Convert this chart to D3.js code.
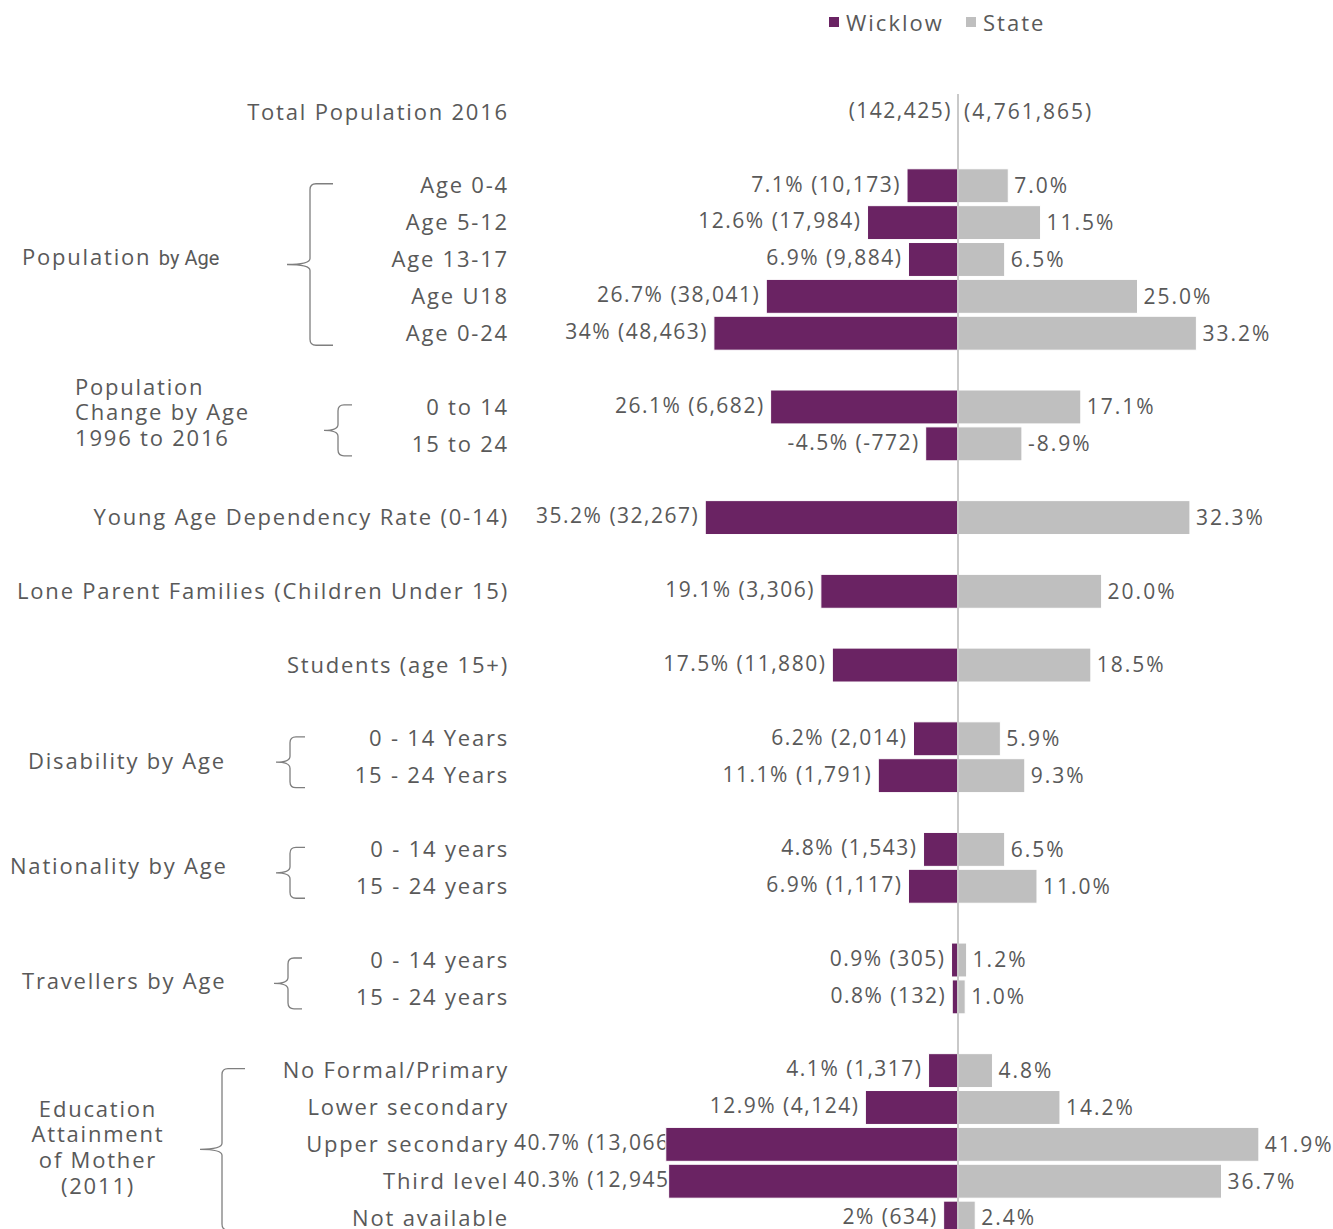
<!DOCTYPE html>
<html>
<head>
<meta charset="utf-8">
<script src="https://cdn.jsdelivr.net/npm/d3@7"></script>
<style>
  body { margin: 0; background: #fff; }
  text { font-family: "Open Sans", "Lato", sans-serif; fill: #595959; }
</style>
</head>
<body>
<div id="chart"></div>
<script>
const WIDTH = 1333;
const HEIGHT = 1229;
const COLOR_WICKLOW = "#6A2363";
const COLOR_STATE = "#BFBFBF";

// rows top to bottom, "" = empty spacer row
const categories = [
    "Total Population 2016", "",
    "Age 0-4", "Age 5-12", "Age 13-17", "Age U18", "Age 0-24", "",
    "0 to 14", "15 to 24", "",
    "Young Age Dependency Rate (0-14)", "",
    "Lone Parent Families (Children Under 15)", "",
    "Students (age 15+)", "",
    "0 - 14 Years", "15 - 24 Years", "",
    "0 - 14 years", "15 - 24 years", "",
    "0 - 14 years", "15 - 24 years", "",
    "No Formal/Primary", "Lower secondary", "Upper secondary", "Third level", "Not available"
];

const wicklowPct = [
    null, null,
    7.1, 12.6, 6.9, 26.7, 34, null,
    26.1, -4.5, null,
    35.2, null,
    19.1, null,
    17.5, null,
    6.2, 11.1, null,
    4.8, 6.9, null,
    0.9, 0.8, null,
    4.1, 12.9, 40.7, 40.3, 2
];

const statePct = [
    null, null,
    7.0, 11.5, 6.5, 25.0, 33.2, null,
    17.1, -8.9, null,
    32.3, null,
    20.0, null,
    18.5, null,
    5.9, 9.3, null,
    6.5, 11.0, null,
    1.2, 1.0, null,
    4.8, 14.2, 41.9, 36.7, 2.4
];

const wicklowLabels = [
    "(142,425)", "",
    "7.1% (10,173)", "12.6% (17,984)", "6.9% (9,884)", "26.7% (38,041)", "34% (48,463)", "",
    "26.1% (6,682)", "-4.5% (-772)", "",
    "35.2% (32,267)", "",
    "19.1% (3,306)", "",
    "17.5% (11,880)", "",
    "6.2% (2,014)", "11.1% (1,791)", "",
    "4.8% (1,543)", "6.9% (1,117)", "",
    "0.9% (305)", "0.8% (132)", "",
    "4.1% (1,317)", "12.9% (4,124)", "40.7% (13,066)", "40.3% (12,945)", "2% (634)"
];

const stateLabels = [
    "(4,761,865)", "",
    "7.0%", "11.5%", "6.5%", "25.0%", "33.2%", "",
    "17.1%", "-8.9%", "",
    "32.3%", "",
    "20.0%", "",
    "18.5%", "",
    "5.9%", "9.3%", "",
    "6.5%", "11.0%", "",
    "1.2%", "1.0%", "",
    "4.8%", "14.2%", "41.9%", "36.7%", "2.4%"
];

// bracketed groups: label lines, first row, last row
const groups = [
    { lines: ["Population by Age"], first: 2, last: 6 },
    { lines: ["Population", "Change by Age", "1996 to 2016"], first: 8, last: 9 },
    { lines: ["Disability by Age"], first: 17, last: 18 },
    { lines: ["Nationality by Age"], first: 20, last: 21 },
    { lines: ["Travellers by Age"], first: 23, last: 24 },
    { lines: ["Education", "Attainment", "of Mother", "(2011)"], first: 26, last: 30 }
];

const rows = categories.map((c, i) => ({
    i: i,
    name: c,
    w: wicklowPct[i],
    s: statePct[i],
    wl: wicklowLabels[i],
    sl: stateLabels[i]
}));

const svg = d3.select("#chart")
    .append("svg")
    .attr("width", WIDTH)
    .attr("height", HEIGHT);

const CENTER = 958;
const LABEL_RIGHT = 509;
const LS = "1.8px";      // letter spacing for the wide look of the original font
const LS_VAL = "1.5px";

const y = d3.scaleBand()
    .domain(d3.range(categories.length))
    .range([92.1, 1238])
    .padding(0.08);

const xLeft = d3.scaleLinear().domain([0, 45]).range([CENTER, CENTER - 45 * 7.18]);
const xRight = d3.scaleLinear().domain([0, 45]).range([CENTER, CENTER + 45 * 7.18]);

const yc = i => y(i) + y.bandwidth() / 2;

// --- Category labels ---
svg.append("g")
    .selectAll("text")
    .data(rows.filter(d => d.name))
    .join("text")
    .attr("x", LABEL_RIGHT)
    .attr("y", d => yc(d.i))
    .attr("dy", "0.35em")
    .attr("text-anchor", "end")
    .style("font-size", "22px")
    .style("letter-spacing", LS)
    .text(d => d.name);

// --- Value labels (drawn under the bars) ---
svg.append("g")
    .selectAll("text")
    .data(rows.filter(d => d.wl))
    .join("text")
    .attr("y", d => yc(d.i))
    .attr("dy", "0.28em")
    .attr("text-anchor", "start")
    .style("font-size", "21px")
    .style("letter-spacing", LS_VAL)
    .text(d => d.wl)
    .attr("x", function (d) {
        const end = (d.w == null ? CENTER : xLeft(Math.abs(d.w))) - 6;
        const len = this.getComputedTextLength();
        // keep clear of the category labels, slide under the bar if needed
        return Math.max(end - len, LABEL_RIGHT + 5);
    });

svg.append("g")
    .selectAll("text")
    .data(rows.filter(d => d.sl))
    .join("text")
    .attr("x", d => (d.s == null ? CENTER : xRight(Math.abs(d.s))) + 6)
    .attr("y", d => yc(d.i))
    .attr("dy", "0.35em")
    .attr("text-anchor", "start")
    .style("font-size", "21px")
    .style("letter-spacing", "2px")
    .text(d => d.sl);

// --- Bars ---
svg.append("g")
    .selectAll("rect")
    .data(rows.filter(d => d.w != null))
    .join("rect")
    .attr("x", d => xLeft(Math.abs(d.w)))
    .attr("y", d => y(d.i))
    .attr("width", d => CENTER - xLeft(Math.abs(d.w)))
    .attr("height", y.bandwidth())
    .attr("fill", COLOR_WICKLOW)
    .attr("stroke", "#fff")
    .attr("stroke-width", 1);

svg.append("g")
    .selectAll("rect")
    .data(rows.filter(d => d.s != null))
    .join("rect")
    .attr("x", CENTER)
    .attr("y", d => y(d.i))
    .attr("width", d => xRight(Math.abs(d.s)) - CENTER)
    .attr("height", y.bandwidth())
    .attr("fill", COLOR_STATE)
    .attr("stroke", "#fff")
    .attr("stroke-width", 1);

// --- Center line ---
svg.append("line")
    .attr("x1", CENTER).attr("x2", CENTER)
    .attr("y1", 94).attr("y2", HEIGHT)
    .attr("stroke", "#C9C9C9")
    .attr("stroke-width", 2);

// --- Braces ---
function brace(xv, top, bottom, tipX, hookX) {
    const mid = (top + bottom) / 2;
    const r = 6;
    return `M${hookX},${top} L${xv + r},${top} Q${xv},${top} ${xv},${top + r}` +
        ` L${xv},${mid - 6} Q${xv},${mid} ${tipX},${mid}` +
        ` Q${xv},${mid} ${xv},${mid + 6} L${xv},${bottom - r}` +
        ` Q${xv},${bottom} ${xv + r},${bottom} L${hookX},${bottom}`;
}

const braceGeom = [
    { xv: 310, tipX: 287, hookX: 333 },
    { xv: 338, tipX: 324, hookX: 352 },
    { xv: 290, tipX: 276, hookX: 305 },
    { xv: 290, tipX: 276, hookX: 305 },
    { xv: 288, tipX: 274, hookX: 302 },
    { xv: 222, tipX: 200, hookX: 245 }
];

groups.forEach((g, k) => {
    const b = braceGeom[k];
    svg.append("path")
        .attr("d", brace(b.xv, yc(g.first) - 2, yc(g.last) + 12, b.tipX, b.hookX))
        .attr("fill", "none")
        .attr("stroke", "#7F7F7F")
        .attr("stroke-width", 1.3);
});

// --- Group labels ---
// Population by Age (the "by Age" part is set smaller in the original)
const pop = svg.append("text")
    .attr("x", 22)
    .attr("y", yc(4) - 1)
    .attr("dy", "0.3em")
    .style("font-size", "22px")
    .style("letter-spacing", LS);
pop.append("tspan").text("Population ");
pop.append("tspan")
    .style("font-size", "20px")
    .style("letter-spacing", "0px")
    .style("font-family", "'Liberation Sans Narrow', 'Roboto', sans-serif")
    .text("by Age");

function multiLine(lines, x, y0, step, anchor) {
    svg.append("g")
        .selectAll("text")
        .data(lines)
        .join("text")
        .attr("x", x)
        .attr("y", (d, i) => y0 + i * step)
        .attr("dy", "0.35em")
        .attr("text-anchor", anchor)
        .style("font-size", "22px")
        .style("letter-spacing", LS)
        .text(d => d);
}

multiLine(groups[1].lines, 75, 387, 25.5, "start");
multiLine(groups[2].lines, 28, 761, 0, "start");
multiLine(groups[3].lines, 10, 866, 0, "start");
multiLine(groups[4].lines, 22, 981, 0, "start");
multiLine(groups[5].lines, 98, 1109, 25.7, "middle");

// --- Legend ---
const legend = svg.append("g");
legend.append("rect")
    .attr("x", 829).attr("y", 17).attr("width", 10).attr("height", 10)
    .attr("fill", COLOR_WICKLOW);
legend.append("text").attr("x", 846).attr("y", 23).attr("dy", "0.35em")
    .style("font-size", "22px").style("letter-spacing", "2px").text("Wicklow");
legend.append("rect")
    .attr("x", 966).attr("y", 17).attr("width", 10).attr("height", 10)
    .attr("fill", COLOR_STATE);
legend.append("text").attr("x", 983).attr("y", 23).attr("dy", "0.35em")
    .style("font-size", "22px").style("letter-spacing", "2px").text("State");
</script>
</body>
</html>
